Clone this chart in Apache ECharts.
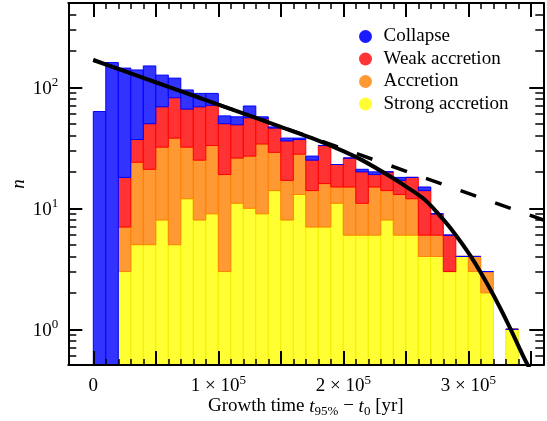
<!DOCTYPE html>
<html><head><meta charset="utf-8">
<script src="https://cdn.jsdelivr.net/npm/echarts@6/dist/echarts.min.js"></script>
<style>html,body{margin:0;padding:0;background:#fff}#c{width:547px;height:421px}</style>
</head><body><div id="c"></div>
<script>
// ---- data ----
const binStarts = [0,10000,20000,30000,40000,50000,60000,70000,80000,90000,100000,110000,120000,130000,140000,150000,160000,170000,180000,190000,200000,210000,220000,230000,240000,250000,260000,270000,280000,290000,300000,310000,320000,330000];
const binWidth = 10000;
const collapse        = [63,160,126,102,100,57,37,29,20,18,8,8,14,2,1,2,1,2,0,0,0,1,1,0,1,0,1,0,0,0,0,0,0,0];
const weakAccretion   = [0,0,11,13,29,37,44,34,44,38,31,23,29,21,17,19,9,11,17,8,11,9,4,6,4,6,8,3,3,0,0,0,0,0];
const accretion       = [0,0,4,19,16,24,33,20,17,24,16,15,17,25,15,9,15,7,9,4,9,5,9,6,7,6,2,2,0,0,1,1,0,0];
const strongAccretion = [0,0,3,5,5,8,5,12,8,9,3,11,10,9,14,8,13,7,7,11,6,6,6,8,6,6,4,4,3,4,3,2,0,1];

// fitted curves
const fitTime = [0,50000,100000,150000,175000,200000,215000,238000,252000,265000,276000,286000,302000,318000,332000,345000,352000];
const fitN    = [168,110,72,47,38,29.7,25,18.2,14.7,11.8,9.0,6.8,4.0,2.1,1.1,0.57,0.42];
const expTime = [0,360000];
const expN    = [168,8];

// ticks
const xMajorTicks = [0,50000,100000,150000,200000,250000,300000,350000];
const xMinorTicks = [10000,20000,30000,40000,60000,70000,80000,90000,110000,120000,130000,140000,160000,170000,180000,190000,210000,220000,230000,240000,260000,270000,280000,290000,310000,320000,330000,340000];
const xLabelValues = [0,100000,200000,300000];
const yMajorTicks = [1,10,100];
const yMinorTicks = [0.6,0.7,0.8,0.9,2,3,4,5,6,7,8,9,20,30,40,50,60,70,80,90,200,300,400];

const X_MIN = -20000, X_MAX = 360000, Y_MIN = 0.507, Y_MAX = 497;
const serif = 'Liberation Serif';

// ---- build ----
const classes = [
  {name:'Strong accretion', counts:strongAccretion, fill:'#ffff33', edge:'#f0f000'},
  {name:'Accretion',        counts:accretion,       fill:'#ff9933', edge:'#ff8000'},
  {name:'Weak accretion',   counts:weakAccretion,   fill:'#ff3333', edge:'#ff0000'},
  {name:'Collapse',         counts:collapse,        fill:'#3333ff', edge:'#0000ff'}
];
const running = binStarts.map(() => 0);
const barSeries = classes.map(c => {
  const data = binStarts.map((x0, i) => {
    const lo = running[i];
    const hi = lo + c.counts[i];
    running[i] = hi;
    return [x0, x0 + binWidth, lo, hi];
  });
  return {
    type:'custom', name:c.name, xAxisIndex:0, yAxisIndex:0, clip:true,
    itemStyle:{color:c.fill},
    encode:{x:[0,1], y:3},
    data,
    renderItem(params, api){
      const x0 = api.value(0), x1 = api.value(1), lo = api.value(2), hi = api.value(3);
      if (!(hi > 0)) return null;
      const base = lo > 0 ? lo : Y_MIN;
      const pT = api.coord([x0, hi]);
      const pB = api.coord([x1, base]);
      return {type:'rect', shape:{x:pT[0], y:pT[1], width:pB[0]-pT[0], height:pB[1]-pT[1]},
              style:{fill:c.fill, stroke:c.edge, lineWidth:1}};
    }
  };
});

const supRich = {
  b:{fontFamily:serif, fontSize:19, color:'#000', lineHeight:22, verticalAlign:'top', padding:[3,0,0,0]},
  s:{fontFamily:serif, fontSize:13, color:'#000', lineHeight:15, verticalAlign:'top'}
};

function xAx(pos, ticks, len, w, showLine, labels){
  return {
    type:'value', position:pos, min:X_MIN, max:X_MAX, z:10,
    axisLine:{show:showLine, onZero:false, lineStyle:{color:'#000', width:2}},
    axisTick:{show:true, inside:true, length:len, customValues:ticks, lineStyle:{color:'#000', width:w}},
    axisLabel: labels ? {
      show:true, margin:9, customValues:xLabelValues,
      formatter: v => v === 0 ? '{b|0}' : '{b|' + Math.round(v/100000) + ' × 10}{s|5}',
      rich: supRich
    } : {show:false},
    splitLine:{show:false}
  };
}
function yAx(pos, ticks, len, w, showLine, labels){
  return {
    type:'log', logBase:10, position:pos, min:Y_MIN, max:Y_MAX, z:10,
    axisLine:{show:showLine, onZero:false, lineStyle:{color:'#000', width:2}},
    axisTick:{show:true, inside:true, length:len, customValues:ticks, lineStyle:{color:'#000', width:w}},
    axisLabel: labels ? {
      show:true, margin:10, customValues:yMajorTicks,
      formatter: v => '{b|10}{s|' + Math.round(Math.log10(v)) + '}',
      rich: supRich
    } : {show:false},
    splitLine:{show:false}
  };
}

const xAxes = [
  xAx('bottom', xMajorTicks, 14, 2, true, true),
  xAx('bottom', xMinorTicks, 6, 1.5, false, false),
  xAx('top', xMajorTicks, 14, 2, true, false),
  xAx('top', xMinorTicks, 6, 1.5, false, false)
];
xAxes[0].name = '{r|Growth time }{i|t}{sub|95%}{r| − }{i|t}{sub|0}{r| [yr]}';
xAxes[0].nameLocation = 'middle';
xAxes[0].nameGap = 32;
xAxes[0].nameMoveOverlap = false;
xAxes[0].nameTextStyle = {
  rich:{
    r:{fontFamily:serif, fontSize:19, color:'#000', lineHeight:22, verticalAlign:'top'},
    i:{fontFamily:serif, fontSize:19, fontStyle:'italic', color:'#000', lineHeight:22, verticalAlign:'top'},
    sub:{fontFamily:serif, fontSize:13, color:'#000', lineHeight:15, verticalAlign:'top', padding:[8,0,0,0]}
  }
};
const yAxes = [
  yAx('left', yMajorTicks, 14, 2, true, true),
  yAx('left', yMinorTicks, 8, 1.5, false, false),
  yAx('right', yMajorTicks, 14, 2, true, false),
  yAx('right', yMinorTicks, 8, 1.5, false, false)
];
yAxes[0].name = 'n';
yAxes[0].nameLocation = 'middle';
yAxes[0].nameGap = 40;
yAxes[0].nameMoveOverlap = false;
yAxes[0].nameTextStyle = {fontFamily:serif, fontSize:19, fontStyle:'italic', color:'#000'};

const option = {
  animation:false,
  backgroundColor:'#fff',
  grid:{left:68.3, right:3.7, top:3, bottom:56, containLabel:false, outerBoundsMode:'none'},
  xAxis:xAxes,
  yAxis:yAxes,
  legend:{
    orient:'vertical', left:354, top:22, itemWidth:18, itemHeight:13, itemGap:3.5,
    icon:'path://M0,5A5,5,0,1,1,10,5A5,5,0,1,1,0,5Z',
    selectedMode:false,
    textStyle:{fontFamily:serif, fontSize:19, color:'#000', lineHeight:19, padding:[0,0,0,4]},
    data:[
      {name:'Collapse', itemStyle:{color:'#1a1aff', borderWidth:0}},
      {name:'Weak accretion', itemStyle:{color:'#ff3535', borderWidth:0}},
      {name:'Accretion', itemStyle:{color:'#ff9933', borderWidth:0}},
      {name:'Strong accretion', itemStyle:{color:'#ffff33', borderWidth:0}}
    ]
  },
  series: barSeries.concat([
    {type:'line', name:'exp', xAxisIndex:0, yAxisIndex:0, showSymbol:false, symbol:'none', clip:true, z:5,
     data: expTime.map((t,i)=>[t, expN[i]]),
     lineStyle:{color:'#000', width:3.5, type:[16.5,20.2], dashOffset:13.9, cap:'butt'}},
    {type:'line', name:'fit', xAxisIndex:0, yAxisIndex:0, showSymbol:false, symbol:'none', clip:true, z:6,
     smooth:0.3, data: fitTime.map((t,i)=>[t, fitN[i]]),
     lineStyle:{color:'#000', width:4, cap:'butt'}}
  ])
};
const chart = echarts.init(document.getElementById('c'), null, {renderer:'canvas'});
chart.setOption(option);
</script></body></html>
